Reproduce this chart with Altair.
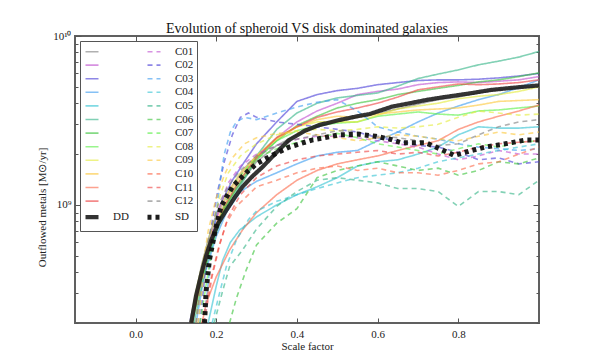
import altair as alt
import pandas as pd

# ---------------- data (values in units of 1e9 Msun/yr) ----------------
LATE_X = [0.3, 0.35, 0.4, 0.45, 0.5, 0.55, 0.6, 0.65, 0.7, 0.75, 0.8, 0.85, 0.9, 0.95, 1.0]

solid_early_x = {
    "s01": [0.14, 0.16, 0.18, 0.2, 0.225, 0.25, 0.275],
    "s02": [0.138, 0.155, 0.17, 0.19, 0.21, 0.24, 0.27],
    "s03": [0.134, 0.15, 0.163, 0.18, 0.196, 0.216, 0.24, 0.27],
    "s04": [0.15, 0.17, 0.2, 0.225, 0.26],
    "s05": [0.18, 0.2, 0.216, 0.235, 0.258, 0.28],
    "s06": [0.145, 0.16, 0.18, 0.2, 0.22, 0.25, 0.28],
    "s07": [0.14, 0.16, 0.18, 0.2, 0.22, 0.25, 0.28],
    "s08": [0.14, 0.16, 0.18, 0.2, 0.22, 0.25, 0.28],
    "s09": [0.135, 0.15, 0.165, 0.185, 0.205, 0.23, 0.26],
    "s10": [0.14, 0.155, 0.175, 0.195, 0.215, 0.24, 0.27],
    "s11": [0.165, 0.175, 0.2, 0.233, 0.265],
    "s12": [0.14, 0.155, 0.175, 0.2, 0.22, 0.25, 0.28],
}
solid_early_y = {
    "s01": [0.2, 0.36, 0.55, 0.75, 1.0, 1.25, 1.5],
    "s02": [0.2, 0.32, 0.48, 0.7, 0.95, 1.3, 1.65],
    "s03": [0.2, 0.3, 0.43, 0.62, 0.82, 1.07, 1.4, 1.8],
    "s04": [0.2, 0.38, 0.65, 0.9, 1.2],
    "s05": [0.2, 0.33, 0.47, 0.6, 0.71, 0.78],
    "s06": [0.2, 0.3, 0.48, 0.68, 0.9, 1.2, 1.55],
    "s07": [0.2, 0.33, 0.5, 0.72, 0.95, 1.25, 1.6],
    "s08": [0.2, 0.33, 0.5, 0.72, 0.95, 1.3, 1.65],
    "s09": [0.2, 0.31, 0.45, 0.68, 0.92, 1.2, 1.55],
    "s10": [0.2, 0.32, 0.5, 0.72, 0.95, 1.25, 1.6],
    "s11": [0.2, 0.26, 0.375, 0.54, 0.71],
    "s12": [0.2, 0.3, 0.48, 0.75, 0.98, 1.3, 1.65],
}
solid_late_y = {
    "s01": [1.8, 2.25, 2.6, 2.9, 3.1, 3.3, 3.5, 3.7, 3.95, 4.2, 4.35, 4.6, 4.8, 4.95, 5.0],
    "s02": [1.95, 2.5, 3.1, 3.6, 4.0, 4.5, 4.7, 4.85, 5.15, 5.3, 5.35, 5.3, 5.4, 5.5, 5.75],
    "s03": [2.3, 3.1, 4.1, 4.5, 4.75, 4.9, 5.15, 5.3, 5.45, 5.5, 5.5, 5.55, 5.65, 5.8, 6.0],
    "s04": [1.38, 1.55, 1.75, 1.95, 2.05, 2.1, 2.4, 2.7, 3.1, 3.5, 3.85, 4.2, 4.5, 4.95, 5.5],
    "s05": [0.85, 1.0, 1.15, 1.28, 1.45, 1.7, 1.8, 1.85, 2.0, 2.2, 2.6, 2.9, 2.85, 2.85, 2.9],
    "s06": [1.95, 2.8, 3.5, 4.0, 4.3, 4.45, 4.6, 5.05, 5.6, 5.95, 6.3, 6.75, 7.1, 7.5, 8.1],
    "s07": [1.85, 2.4, 2.95, 3.35, 3.75, 4.0, 4.2, 4.5, 4.7, 4.9, 5.1, 5.35, 5.5, 5.75, 6.05],
    "s08": [1.9, 2.4, 2.75, 2.95, 3.05, 3.1, 3.35, 3.45, 3.55, 3.45, 3.4, 3.6, 3.65, 3.75, 3.85],
    "s09": [1.95, 2.5, 2.9, 3.1, 3.1, 3.1, 3.4, 3.7, 3.85, 4.0, 4.25, 4.4, 4.5, 4.7, 5.0],
    "s10": [1.95, 2.45, 2.9, 3.2, 3.35, 3.3, 3.45, 3.55, 3.65, 3.7, 3.75, 3.9, 4.1, 4.15, 4.2],
    "s11": [0.9, 1.15, 1.4, 1.6, 1.75, 1.85, 1.95, 2.1, 2.25, 2.4, 2.8, 3.1, 3.35, 3.6, 3.9],
    "s12": [1.9, 2.5, 2.9, 3.3, 3.55, 3.75, 4.0, 4.35, 4.8, 5.0, 5.2, 5.15, 5.2, 5.3, 5.5],
}

dash_early_x = {
    "C01": [0.155, 0.17, 0.19, 0.21, 0.23, 0.26],
    "C02": [0.16, 0.175, 0.19, 0.205, 0.22, 0.24, 0.26, 0.28],
    "C03": [0.17, 0.185, 0.2, 0.21, 0.22, 0.235, 0.25, 0.27],
    "C04": [0.19, 0.205, 0.225, 0.25, 0.28],
    "C05": [0.195, 0.216, 0.233, 0.265],
    "C06": [0.233, 0.25, 0.274],
    "C07": [0.16, 0.18, 0.2, 0.22, 0.25, 0.28],
    "C08": [0.155, 0.17, 0.19, 0.21, 0.23, 0.26],
    "C09": [0.15, 0.165, 0.18, 0.2, 0.22, 0.24, 0.27],
    "C10": [0.165, 0.185, 0.205, 0.225, 0.25, 0.28],
    "C11": [0.17, 0.19, 0.21, 0.23, 0.26],
    "C12": [0.15, 0.165, 0.185, 0.205, 0.23, 0.26],
}
dash_early_y = {
    "C01": [0.2, 0.4, 0.7, 1.0, 1.35, 1.7],
    "C02": [0.2, 0.45, 0.8, 1.25, 1.8, 2.6, 3.3, 3.5],
    "C03": [0.2, 0.45, 0.9, 1.4, 2.0, 2.7, 3.1, 3.3],
    "C04": [0.2, 0.28, 0.43, 0.62, 0.82],
    "C05": [0.2, 0.31, 0.43, 0.54],
    "C06": [0.2, 0.28, 0.41],
    "C07": [0.2, 0.4, 0.7, 1.0, 1.4, 1.7],
    "C08": [0.2, 0.4, 0.75, 1.15, 1.55, 1.95],
    "C09": [0.2, 0.4, 0.7, 1.1, 1.5, 1.9, 2.3],
    "C10": [0.2, 0.35, 0.55, 0.78, 0.98, 1.15],
    "C11": [0.2, 0.38, 0.6, 0.85, 1.15],
    "C12": [0.2, 0.4, 0.7, 1.0, 1.3, 1.6],
}
dash_late_y = {
    "C01": [2.0, 2.25, 2.45, 2.55, 2.55, 2.5, 2.4, 2.3, 2.2, 2.0, 1.85, 1.95, 2.1, 2.0, 2.0],
    "C02": [3.3, 3.1, 3.0, 2.9, 2.8, 2.7, 2.5, 2.4, 2.25, 2.2, 2.05, 1.85, 1.9, 1.75, 1.8],
    "C03": [3.2, 3.5, 3.8, 4.05, 4.2, 3.6, 2.9, 2.7, 2.55, 2.45, 2.3, 2.2, 2.15, 2.1, 2.15],
    "C04": [0.92, 1.05, 1.15, 1.25, 1.35, 1.45, 1.5, 1.55, 1.65, 1.8, 1.9, 2.0, 2.1, 2.2, 2.3],
    "C05": [0.72, 0.98, 1.2, 1.4, 1.45, 1.4, 1.35, 1.25, 1.25, 1.2, 0.98, 1.2, 1.2, 1.15, 1.4],
    "C06": [0.58, 0.78, 0.95, 1.45, 1.6, 1.7, 1.8, 1.7, 1.6, 1.65, 1.5, 1.6, 1.8, 1.75, 1.9],
    "C07": [1.9, 2.15, 2.35, 2.5, 2.65, 2.5, 2.3, 2.2, 2.1, 2.0, 2.15, 2.3, 2.2, 2.35, 2.4],
    "C08": [2.3, 2.6, 2.75, 2.8, 2.75, 2.8, 2.9, 2.85, 2.9, 3.0, 3.3, 3.6, 3.5, 3.4, 3.45],
    "C09": [2.5, 2.65, 2.7, 2.6, 2.5, 2.4, 2.5, 2.6, 2.55, 2.45, 2.4, 2.55, 2.7, 2.6, 2.7],
    "C10": [1.28, 1.4, 1.55, 1.65, 1.7, 1.6, 1.65, 1.55, 1.55, 1.5, 1.6, 1.75, 1.8, 2.0, 2.2],
    "C11": [1.45, 1.7, 1.85, 1.95, 2.0, 2.05, 2.1, 2.0, 2.05, 1.95, 2.05, 2.2, 2.3, 2.35, 2.4],
    "C12": [1.95, 2.25, 2.45, 2.6, 2.75, 2.7, 2.55, 2.5, 2.4, 2.25, 2.3, 2.6, 2.9, 3.1, 3.2],
}

DD_X = [0.138, 0.15, 0.163, 0.175, 0.188, 0.205, 0.225, 0.245, 0.265, 0.29, 0.314, 0.35, 0.38,
        0.42, 0.455, 0.505, 0.55, 0.58, 0.636, 0.68, 0.72, 0.76, 0.8, 0.84, 0.88, 0.94, 1.0]
DD_Y = [0.2, 0.29, 0.39, 0.5, 0.62, 0.78, 0.93, 1.1, 1.28, 1.48, 1.67, 2.05, 2.42,
        2.75, 2.97, 3.18, 3.35, 3.45, 3.82, 4.0, 4.18, 4.33, 4.47, 4.62, 4.79, 4.95, 5.1]
SD_X = [0.171, 0.175, 0.183, 0.196, 0.212, 0.24, 0.274, 0.3, 0.332, 0.381, 0.437, 0.505,
        0.554, 0.595, 0.63, 0.66, 0.72, 0.76, 0.79, 0.826, 0.867, 0.916, 0.965, 1.0]
SD_Y = [0.2, 0.31, 0.47, 0.68, 0.98, 1.28, 1.55, 1.75, 1.93, 2.2, 2.42, 2.6,
        2.62, 2.55, 2.45, 2.33, 2.33, 2.12, 1.96, 2.08, 2.2, 2.3, 2.42, 2.42]

PALETTE = ["#808080", "#c050d0", "#4a3fd8", "#3c9cf0", "#35c4d4", "#35b488",
           "#3cc43c", "#5cf048", "#e4ec3c", "#fcc83c", "#fc6a4c", "#ee4444"]

SOLID = [f"s{i:02d}" for i in range(1, 13)]
DASHED = [f"C{i:02d}" for i in range(1, 13)]

# ---------------- table ----------------
rows = []
for name in SOLID:
    xs = solid_early_x[name] + LATE_X
    ys = solid_early_y[name] + solid_late_y[name]
    for x, y in zip(xs, ys):
        rows.append({"series": name, "x": x, "y": y * 1e9, "grp": "c"})
for name in DASHED:
    xs = dash_early_x[name] + LATE_X
    ys = dash_early_y[name] + dash_late_y[name]
    for x, y in zip(xs, ys):
        rows.append({"series": name, "x": x, "y": y * 1e9, "grp": "c"})
for x, y in zip(DD_X, DD_Y):
    rows.append({"series": "DD", "x": x, "y": y * 1e9, "grp": "k"})
for x, y in zip(SD_X, SD_Y):
    rows.append({"series": "SD", "x": x, "y": y * 1e9, "grp": "k"})
df = pd.DataFrame(rows)

# legend (vega fills the two columns top-to-bottom, like matplotlib)
domain = SOLID + ["DD"] + DASHED + ["SD"]
colors = PALETTE + ["#1e1e1e"] + [PALETTE[(i + 1) % 12] for i in range(12)] + ["#111111"]
dashes = [[1, 0]] * 13 + [[5, 4]] * 12 + [[4, 4]]
widths = [1.6] * 12 + [4.2] + [1.6] * 12 + [5.0]
opac = [0.62] * 12 + [0.9] + [0.62] * 12 + [0.95]

W, H = 464, 287
SERIF = "Liberation Serif"
XSC = alt.Scale(domain=[-0.15, 1.0], nice=False, zero=False)
YSC = alt.Scale(type="log", domain=[2e8, 1e10], nice=False)
XT = [0.0, 0.2, 0.4, 0.6, 0.8]
YMAJ = [1e9, 1e10]
YMIN = [2e8, 3e8, 4e8, 5e8, 6e8, 7e8, 8e8, 9e8, 2e9, 3e9, 4e9, 5e9, 6e9, 7e9, 8e9, 9e9]

leg = alt.Legend(title=None, orient="top-left", offset=5, columns=2,
                 symbolType="stroke", symbolSize=169,
                 labelExpr="indexof(datum.label, 's') == 0 ? '' : datum.label",
                 labelFont=SERIF, labelFontSize=11, labelColor="#222",
                 labelOffset=12, columnPadding=8, rowPadding=0.6,
                 strokeColor="#555", fillColor="white", padding=3,
                 cornerRadius=0)

enc_common = dict(
    color=alt.Color("series:N", scale=alt.Scale(domain=domain, range=colors), legend=leg),
    strokeDash=alt.StrokeDash("series:N", scale=alt.Scale(domain=domain, range=dashes), legend=leg),
    strokeWidth=alt.StrokeWidth("series:N", scale=alt.Scale(type="ordinal", domain=domain, range=widths), legend=leg),
    opacity=alt.Opacity("series:N", scale=alt.Scale(type="ordinal", domain=domain, range=opac), legend=leg),
    detail="series:N",
)

xaxis_main = alt.Axis(orient="bottom", values=XT, format=".1f", ticks=False, domain=False, grid=False,
                      labelFont=SERIF, labelFontSize=11, labelColor="#222", labelPadding=5,
                      title="Scale factor", titleFont=SERIF, titleFontSize=11,
                      titleFontWeight="normal", titleColor="#222", titlePadding=1)
yaxis_main = alt.Axis(orient="left", values=YMAJ, ticks=False, domain=False, grid=False,
                      labelExpr="datum.value >= 1e10 ? '10¹⁰' : '10⁹'",
                      labelFont=SERIF, labelFontSize=11, labelColor="#222", labelPadding=4,
                      title="Outflowed metals [M⊙/yr]", titleFont=SERIF, titleFontSize=11,
                      titleFontWeight="normal", titleColor="#222", titlePadding=5,
                      titleY=171)

base = alt.Chart(df)
colored = base.transform_filter("datum.grp == 'c'").mark_line(clip=True).encode(
    x=alt.X("x:Q", scale=XSC, axis=xaxis_main),
    y=alt.Y("y:Q", scale=YSC, axis=yaxis_main),
    **enc_common,
)
black = base.transform_filter("datum.grp == 'k'").mark_line(clip=True).encode(
    x=alt.X("x:Q", scale=XSC, axis=None),
    y=alt.Y("y:Q", scale=YSC, axis=None),
    **enc_common,
)

tick_kw = dict(labels=False, domain=False, grid=False, title=None, tickColor="#555", tickWidth=1)


def tick_layer(xorient, yorient, yvals, ysize, with_x):
    xax = alt.Axis(orient=xorient, values=XT, tickSize={"expr": "-5"}, **tick_kw) if with_x else None
    yax = alt.Axis(orient=yorient, values=yvals, tickSize={"expr": ysize}, **tick_kw)
    return base.transform_filter("datum.series == 'DD'").mark_line(strokeOpacity=0).encode(
        x=alt.X("x:Q", scale=XSC, axis=xax),
        y=alt.Y("y:Q", scale=YSC, axis=yax),
    )


t1 = tick_layer("bottom", "left", YMAJ, "-6", True)
t2 = tick_layer("top", "right", YMAJ, "-6", True)
t3 = tick_layer("bottom", "left", YMIN, "-3", False)
t4 = tick_layer("top", "right", YMIN, "-3", False)

chart = alt.layer(colored, black, t1, t2, t3, t4).resolve_axis(
    x="independent", y="independent"
).properties(
    width=W, height=H,
    title=alt.TitleParams("Evolution of spheroid VS disk dominated galaxies", font=SERIF,
                          fontSize=14, fontWeight="normal", color="#111", offset=-6),
    autosize=alt.AutoSizeParams(type="none"),
    padding={"left": 67, "top": 28, "right": 53, "bottom": 27},
).configure_view(stroke="#606060", strokeWidth=2)

chart.save("out.html", embed_options={"renderer": "svg", "actions": False})
